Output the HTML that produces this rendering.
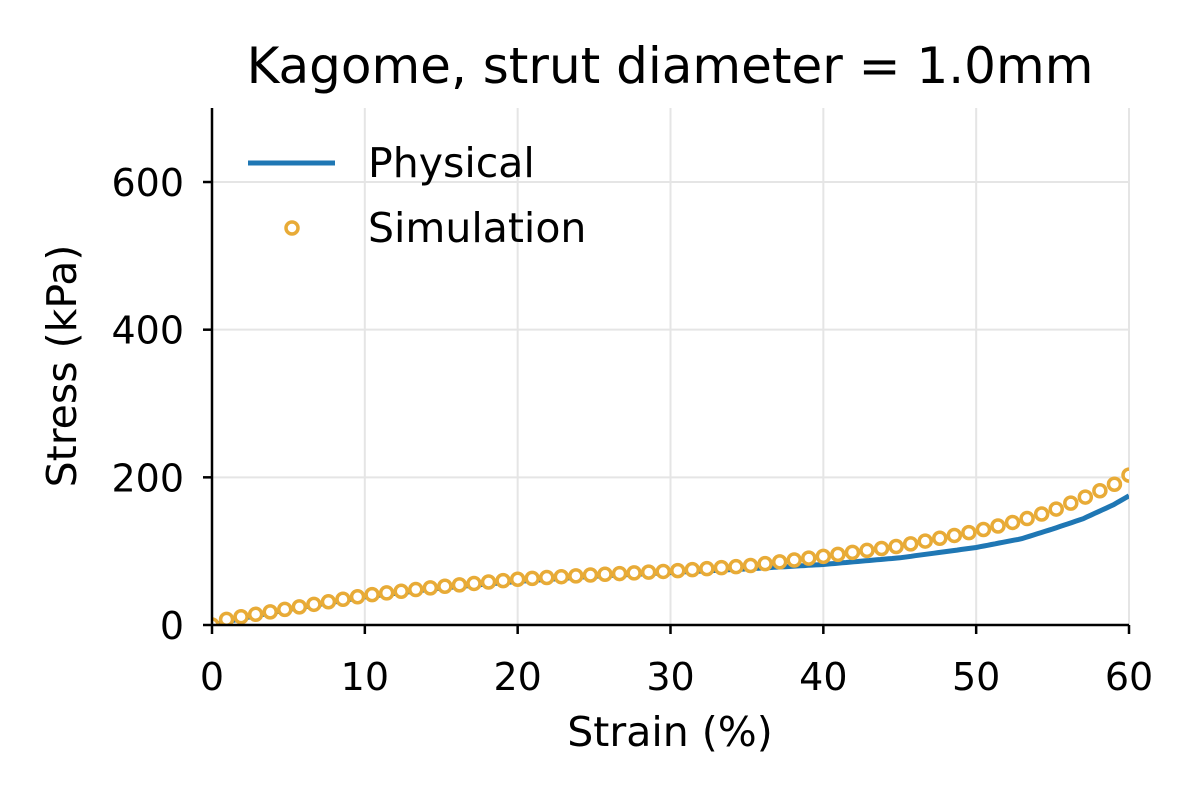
<!DOCTYPE html>
<html><head><meta charset="utf-8"><style>
html,body{margin:0;padding:0;background:#fff}
svg{display:block;font-family:"DejaVu Sans","Liberation Sans",sans-serif}
</style></head><body>
<svg id="s" width="1200" height="800" xmlns="http://www.w3.org/2000/svg">
<defs><clipPath id="c"><rect x="212" y="108" width="917" height="517"/></clipPath></defs>
<g id="grid" stroke="#e5e5e5" stroke-width="2"></g>
<g id="data" clip-path="url(#c)"></g>
<line x1="212" y1="108" x2="212" y2="626" stroke="#000" stroke-width="2.5"/>
<line x1="211" y1="625" x2="1129" y2="625" stroke="#000" stroke-width="2.5"/>
<g id="ticks"></g>
<text x="670" y="83" font-size="50" text-anchor="middle">Kagome, strut diameter = 1.0mm</text>
<text x="670" y="746" font-size="41" text-anchor="middle">Strain (%)</text>
<text transform="translate(76,366) rotate(-90)" font-size="41" text-anchor="middle">Stress (kPa)</text>
<line x1="248" y1="163" x2="335" y2="163" stroke="#1f77b4" stroke-width="5"/>
<text x="368" y="177" font-size="41">Physical</text>
<circle cx="292" cy="228" r="6" fill="#fff" stroke="#e8ab37" stroke-width="3.5"/>
<text x="368" y="242" font-size="41">Simulation</text>
</svg>
<script>
const X=v=>212+v*917/60, Y=v=>625-v*0.7383;
const ns="http://www.w3.org/2000/svg";
function el(p,t,a,txt){const e=document.createElementNS(ns,t);for(const k in a)e.setAttribute(k,a[k]);if(txt!==undefined)e.textContent=txt;document.getElementById(p).appendChild(e);return e;}
for(let i=0;i<=60;i+=10){const x=X(i);if(i>0)el('grid','line',{x1:x,y1:108,x2:x,y2:625});
el('ticks','line',{x1:x,y1:625,x2:x,y2:634,stroke:'#000','stroke-width':2.5});
el('ticks','text',{x:x,y:690,'font-size':38,'text-anchor':'middle'},i);}
for(let v=0;v<=600;v+=200){const y=Y(v);if(v>0)el('grid','line',{x1:212,y1:y,x2:1129,y2:y});
el('ticks','line',{x1:203,y1:y,x2:212,y2:y,stroke:'#000','stroke-width':2.5});
el('ticks','text',{x:184,y:y+14,'font-size':38,'text-anchor':'end'},v);}
const P=[[0,0],[2,9],[5,21],[10,38],[15,50],[20,59],[25,66],[30,71],[35,76],[40,82],[45,91],[50,105],[53,117],[55,130],[57,144],[59,163],[60,175]];
const S=[[0,0],[1,8],[3,15],[5,22],[10,40],[15,52],[20,62],[25,68],[30,73],[35,80],[40,93],[45,107],[50,127],[53,142],[55,155],[57,172],[59,190],[60,203]];
function f(D,x){for(let i=1;i<D.length;i++)if(x<=D[i][0]){const a=D[i-1],b=D[i];return a[1]+(b[1]-a[1])*(x-a[0])/(b[0]-a[0]);}return D[D.length-1][1];}
let d='';for(let x=0;x<=60;x+=0.25)d+=(x?'L':'M')+X(x).toFixed(1)+','+Y(f(P,x)).toFixed(1);
el('data','path',{d:d,fill:'none',stroke:'#1f77b4','stroke-width':5});
for(let i=0;i<64;i++){const x=i*60/63;el('data','circle',{cx:X(x),cy:Y(f(S,x)),r:6,fill:'#fff',stroke:'#e8ab37','stroke-width':3.5});}
</script>
</body></html>
